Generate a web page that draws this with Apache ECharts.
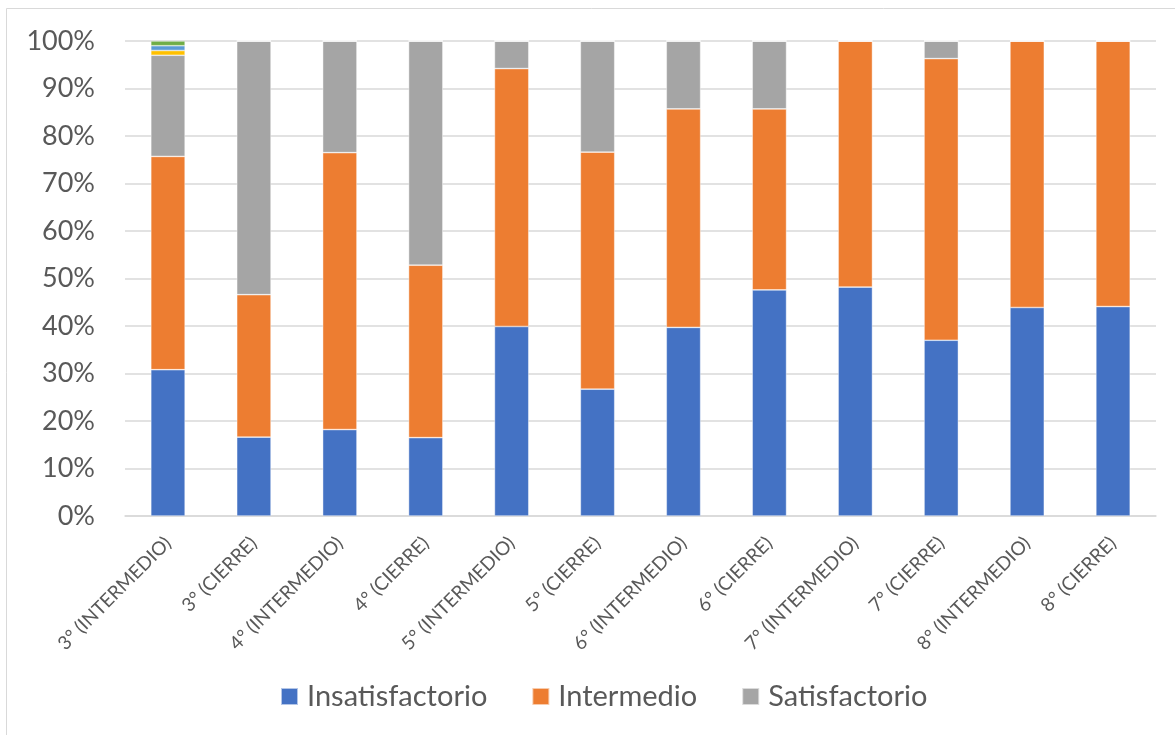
<!DOCTYPE html>
<html>
<head>
<meta charset="utf-8">
<script src="https://cdn.jsdelivr.net/npm/echarts@6/dist/echarts.min.js"></script>
<style>html,body{margin:0;padding:0;background:#fff}#c{width:1175px;height:735px}</style>
</head>
<body>
<div id="c"></div>
<script>
const categories = ['3° (INTERMEDIO)','3° (CIERRE)','4° (INTERMEDIO)','4° (CIERRE)','5° (INTERMEDIO)','5° (CIERRE)','6° (INTERMEDIO)','6° (CIERRE)','7° (INTERMEDIO)','7° (CIERRE)','8° (INTERMEDIO)','8° (CIERRE)'];
const insatisfactorio = [30.8, 16.6, 18.2, 16.5, 39.9, 26.7, 39.7, 47.6, 48.2, 37.0, 43.9, 44.1];
const intermedio      = [44.9, 30.0, 58.3, 36.3, 54.3, 49.9, 46.0, 38.1, 51.8, 59.3, 56.1, 55.9];
const satisfactorio   = [21.3, 53.4, 23.5, 47.2,  5.8, 23.4, 14.3, 14.3,  0.0,  3.7,  0.0,  0.0];
const extraA = [1, 0, 0, 0, 0, 0, 0, 0, 0, 0, 0, 0];
const extraB = [1, 0, 0, 0, 0, 0, 0, 0, 0, 0, 0, 0];
const extraC = [1, 0, 0, 0, 0, 0, 0, 0, 0, 0, 0, 0];
const yTicks = [0, 10, 20, 30, 40, 50, 60, 70, 80, 90, 100];

const font = 'Lato, "Open Sans", sans-serif';
const chart = echarts.init(document.getElementById('c'), null, {renderer: 'canvas'});
function ser(name, data, color) {
  return {
    name, type: 'bar', stack: 'total', data, barCategoryGap: '60%',
    itemStyle: {color, borderColor: 'rgba(255,255,255,0.6)', borderWidth: 0.7},
    emphasis: {disabled: true}
  };
}
chart.setOption({
  animation: false,
  backgroundColor: '#ffffff',
  graphic: [{
    type: 'rect', shape: {x: 6.5, y: 8.5, width: 1300, height: 900},
    style: {fill: 'none', stroke: '#d9d9d9', lineWidth: 1}, silent: true, z: -10
  }],
  grid: {left: 125, right: 19, top: 41, bottom: 219},
  legend: {
    data: ['Insatisfactorio', 'Intermedio', 'Satisfactorio'],
    bottom: 19, left: 275,
    icon: 'rect', itemWidth: 17, itemHeight: 17, itemGap: 44,
    textStyle: {fontFamily: font, fontSize: 29, color: '#595959', padding: [0, 0, 0, 4]}
  },
  xAxis: {
    type: 'category', data: categories,
    axisLine: {lineStyle: {color: '#d9d9d9', width: 1.5}},
    axisTick: {show: false},
    axisLabel: {rotate: 45, interval: 0, fontFamily: font, fontSize: 19, color: '#595959', margin: 24}
  },
  yAxis: {
    type: 'value', min: 0, max: 100, interval: 10,
    axisLine: {show: false}, axisTick: {show: false},
    splitLine: {lineStyle: {color: '#d9d9d9', width: 1.5}},
    axisLabel: {
      fontFamily: font, fontSize: 27, color: '#595959', margin: 30,
      formatter: v => yTicks.includes(v) ? v + '%' : ''
    }
  },
  series: [
    ser('Insatisfactorio', insatisfactorio, '#4472C4'),
    ser('Intermedio', intermedio, '#ED7D31'),
    ser('Satisfactorio', satisfactorio, '#A5A5A5'),
    ser('Serie4', extraA, '#FFC000'),
    ser('Serie5', extraB, '#5B9BD5'),
    ser('Serie6', extraC, '#70AD47')
  ]
});
</script>
</body>
</html>
